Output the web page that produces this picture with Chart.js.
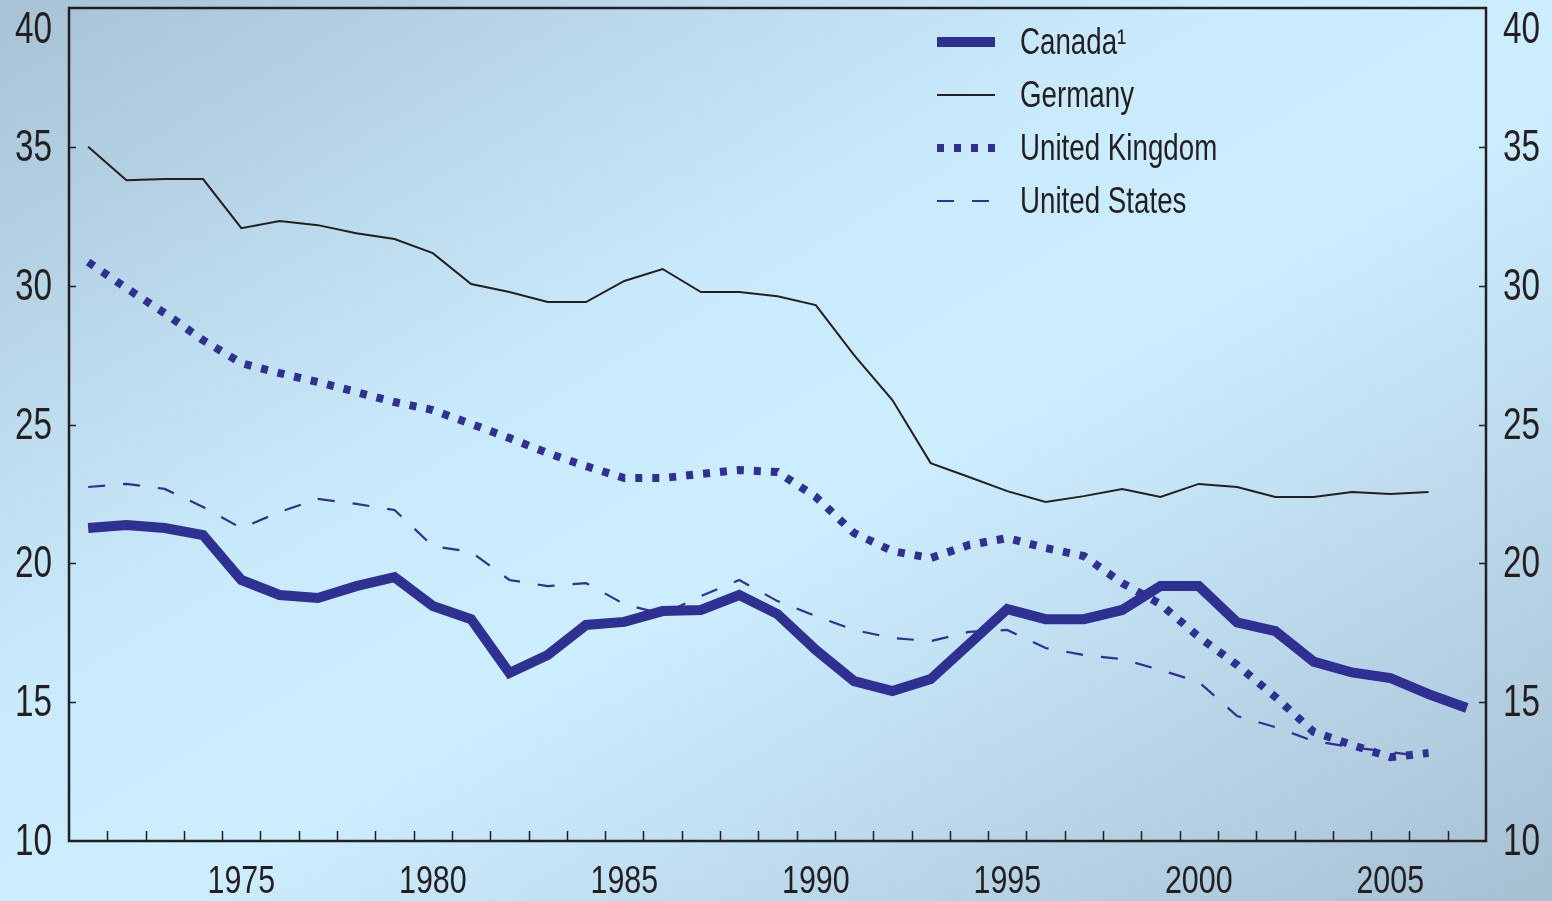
<!DOCTYPE html>
<html>
<head>
<meta charset="utf-8">
<script src="https://cdn.jsdelivr.net/npm/chart.js@4.4.1/dist/chart.umd.min.js"></script>
<style>
  html, body { margin: 0; padding: 0; }
  body {
    width: 1552px; height: 901px; overflow: hidden;
    background: linear-gradient(to bottom right, #a7c2d5 0%, #c9eafc 38%, #cdeeff 55%, #a6c0d2 100%);
  }
  #wrap { width: 1552px; height: 901px; }
</style>
</head>
<body>
<div id="wrap"><canvas id="grafico" width="1552" height="901"></canvas></div>
<script>
// años 1971-2007
const years = [];
for (let y = 1971; y <= 2007; y++) years.push(String(y));

const canada = [21.27, 21.38, 21.27, 21.02, 19.4, 18.86, 18.75, 19.18, 19.5, 18.46,
  17.99, 16.05, 16.7, 17.78, 17.89, 18.28, 18.32, 18.86, 18.17, 16.88,
  15.76, 15.4, 15.83, 17.09, 18.35, 17.99, 17.99, 18.32, 19.18, 19.18,
  17.87, 17.56, 16.46, 16.07, 15.87, 15.29, 14.79];
const germany = [35.0, 33.8, 33.84, 33.84, 32.07, 32.33, 32.18, 31.89, 31.68, 31.17,
  30.06, 29.77, 29.41, 29.41, 30.17, 30.6, 29.77, 29.77, 29.62, 29.3,
  27.5, 25.88, 23.61, 23.11, 22.6, 22.21, 22.42, 22.68, 22.39, 22.86,
  22.75, 22.39, 22.39, 22.57, 22.5, 22.57];
const unitedKingdom = [30.85, 29.91, 29.01, 28.04, 27.21, 26.85, 26.53, 26.17, 25.81, 25.52,
  25.02, 24.51, 23.97, 23.5, 23.07, 23.07, 23.22, 23.36, 23.29, 22.39,
  21.09, 20.44, 20.19, 20.66, 20.91, 20.55, 20.26, 19.29, 18.53, 17.35,
  16.34, 15.19, 13.93, 13.46, 13.02, 13.17];
const unitedStates = [22.75, 22.86, 22.68, 22.03, 21.27, 21.85, 22.32, 22.14, 21.92, 20.62,
  20.41, 19.4, 19.18, 19.29, 18.53, 18.17, 18.82, 19.4, 18.64, 18.1,
  17.6, 17.31, 17.2, 17.53, 17.6, 16.95, 16.7, 16.55, 16.16, 15.73,
  14.5, 14.1, 13.6, 13.38, 13.2, 13.02];
const yTicks = [10, 15, 20, 25, 30, 35, 40];

const azul = '#2e3192';
const tinta = '#231f20';
const fuente = '"Liberation Sans", Arial, sans-serif';

// texto condensado (no hay fuente narrow instalada)
function textoAngosto(ctx, txt, x, y, align, size, sx) {
  ctx.save();
  ctx.translate(x, y);
  ctx.scale(sx, 1);
  ctx.font = size + 'px ' + fuente;
  ctx.textAlign = align;
  ctx.textBaseline = 'alphabetic';
  ctx.fillStyle = tinta;
  ctx.fillText(txt, 0, 0);
  ctx.restore();
}

// marco, marcas interiores, etiquetas y leyenda
const extras = {
  id: 'extras',
  afterDatasetsDraw(chart) {
    const ctx = chart.ctx;
    const a = chart.chartArea;
    const x = chart.scales.x;
    const y = chart.scales.y;
    ctx.save();
    ctx.strokeStyle = tinta;
    ctx.lineWidth = 1.5;
    ctx.beginPath();
    for (let i = 1; i < years.length; i++) {
      const px = Math.round((x.getPixelForValue(i - 1) + x.getPixelForValue(i)) / 2) + 0.5;
      ctx.moveTo(px, a.bottom - 10);
      ctx.lineTo(px, a.bottom);
    }
    yTicks.forEach(v => {
      if (v === 10 || v === 40) return;
      const py = Math.round(y.getPixelForValue(v)) + 0.5;
      ctx.moveTo(a.left, py); ctx.lineTo(a.left + 7, py);
      ctx.moveTo(a.right - 7, py); ctx.lineTo(a.right, py);
    });
    ctx.stroke();

    ctx.lineWidth = 2.5;
    ctx.strokeRect(a.left, a.top, a.right - a.left, a.bottom - a.top);
    ctx.restore();

    // etiquetas x cada 5 años
    years.forEach((yr, i) => {
      if (Number(yr) % 5 !== 0) return;
      textoAngosto(ctx, yr, x.getPixelForValue(i), 893, 'center', 38, 0.8);
    });

    // etiquetas y (ambos lados)
    yTicks.forEach(v => {
      const base = Math.max(y.getPixelForValue(v) + 14, 43);
      textoAngosto(ctx, String(v), 52, base, 'right', 45, 0.74);
      textoAngosto(ctx, String(v), 1503, base, 'left', 45, 0.74);
    });

    // leyenda
    const filas = [42, 95, 148, 201];
    chart.data.datasets.forEach((ds, i) => {
      const fy = filas[i];
      ctx.save();
      ctx.beginPath();
      ctx.strokeStyle = ds.borderColor;
      ctx.lineWidth = ds.borderWidth;
      ctx.setLineDash(ds.borderDash || []);
      ctx.moveTo(937, fy);
      ctx.lineTo(995, fy);
      ctx.stroke();
      ctx.restore();
      textoAngosto(ctx, ds.label, 1020, fy + 12, 'left', 36, 0.77);
    });
  }
};

new Chart(document.getElementById('grafico'), {
  type: 'line',
  data: {
    labels: years,
    datasets: [
      { label: 'Canada¹', data: canada, borderColor: azul, borderWidth: 10 },
      { label: 'Germany', data: germany, borderColor: tinta, borderWidth: 2 },
      { label: 'United Kingdom', data: unitedKingdom, borderColor: azul, borderWidth: 8, borderDash: [7, 10] },
      { label: 'United States', data: unitedStates, borderColor: azul, borderWidth: 2.2, borderDash: [17, 18] }
    ]
  },
  options: {
    responsive: false,
    animation: false,
    devicePixelRatio: 1,
    layout: { padding: { top: 8, left: 0, right: 0, bottom: 0 } },
    elements: {
      point: { radius: 0 },
      line: { tension: 0, borderCapStyle: 'butt', borderJoinStyle: 'miter', fill: false }
    },
    plugins: { legend: { display: false }, tooltip: { enabled: false } },
    scales: {
      x: {
        offset: true,
        grid: { display: false, drawTicks: false },
        border: { display: false },
        ticks: { display: false, autoSkip: false },
        afterFit: s => { s.height = 60; }
      },
      y: {
        min: 10, max: 40,
        ticks: { display: false, stepSize: 5 },
        grid: { display: false },
        border: { display: false },
        afterFit: s => { s.width = 69; }
      },
      y2: {
        display: true,
        position: 'right',
        min: 10, max: 40,
        ticks: { display: false, stepSize: 5 },
        grid: { display: false },
        border: { display: false },
        afterFit: s => { s.width = 66; }
      }
    }
  },
  plugins: [extras]
});
</script>
</body>
</html>
